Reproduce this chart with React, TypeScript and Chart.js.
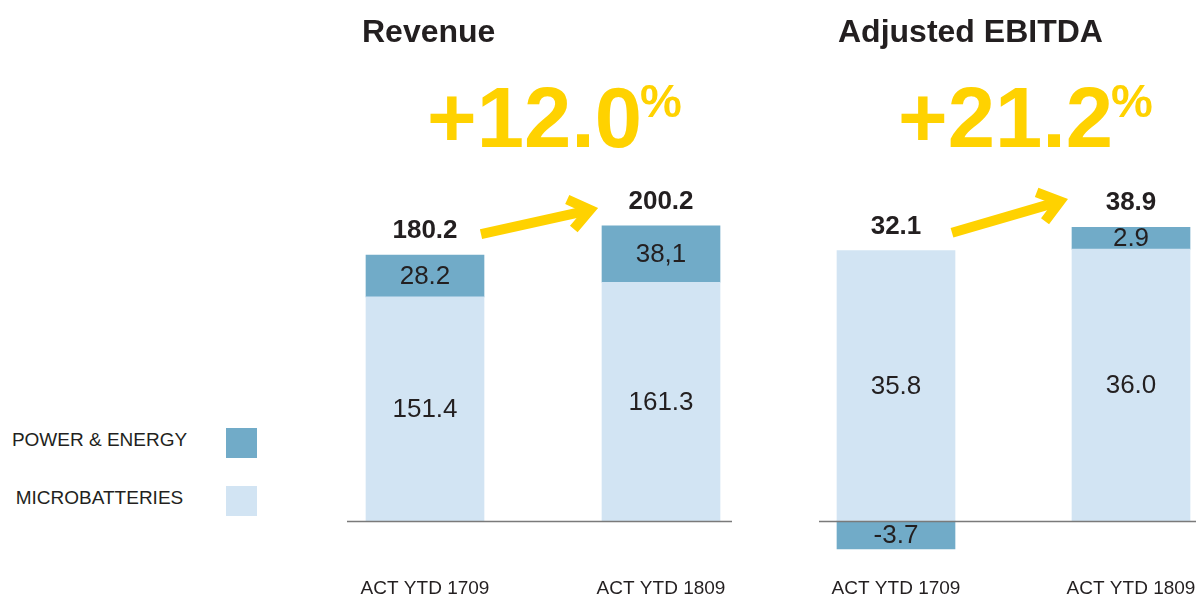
import React, { useEffect, useRef } from "react";
import { Chart, registerables } from "chart.js";

Chart.register(...registerables);

// ---------- data ----------
const categories = ["ACT YTD 1709", "ACT YTD 1809"];
const seriesNames = ["POWER & ENERGY", "MICROBATTERIES"];

const revenueMicro = [151.4, 161.3];
const revenuePower = [28.2, 38.1];
const revenueMicroText = ["151.4", "161.3"];
const revenuePowerText = ["28.2", "38,1"];
const revenueTotals = ["180.2", "200.2"];
const revenueGrowth = "+12.0";

const ebitdaMicro = [35.8, 36.0];
const ebitdaPower = [-3.7, 2.9];
const ebitdaMicroText = ["35.8", "36.0"];
const ebitdaPowerText = ["-3.7", "2.9"];
const ebitdaTotals = ["32.1", "38.9"];
const ebitdaGrowth = "+21.2";

// value-axis ranges (hidden axes)
const revenueRange = [-40.4, 200];
const ebitdaRange = [-7.92, 39.2];

// ---------- style ----------
const DARK = "#71ABC8";
const LIGHT = "#D2E4F3";
const YELLOW = "#FFD200";
const TEXT = "#231F20";
const FONT = '"Liberation Sans", Arial, Helvetica, sans-serif';
const BAR_W = 118;

const decorPlugin = {
  id: "decor",
  afterDatasetsDraw(chart: any, _args: any, opts: any) {
    const ctx = chart.ctx as CanvasRenderingContext2D;
    const micro = chart.getDatasetMeta(0).data;
    const power = chart.getDatasetMeta(1).data;
    const yScale = chart.scales.y;
    const half = BAR_W / 2;
    ctx.save();

    // baseline
    const y0 = Math.round(yScale.getPixelForValue(0)) + 0.5;
    ctx.strokeStyle = "#7a7a7a";
    ctx.lineWidth = 1.3;
    ctx.beginPath();
    ctx.moveTo(0, y0);
    ctx.lineTo(chart.width, y0);
    ctx.stroke();

    // in-bar labels
    ctx.fillStyle = TEXT;
    ctx.textAlign = "center";
    ctx.textBaseline = "middle";
    ctx.font = `26px ${FONT}`;
    micro.forEach((b: any, i: number) => {
      ctx.fillText(opts.microText[i], b.x, (b.y + b.base) / 2 + 1);
    });
    power.forEach((b: any, i: number) => {
      ctx.fillText(opts.powerText[i], b.x, (b.y + b.base) / 2 + 1);
    });

    // totals
    const tops = micro.map((b: any, i: number) => Math.min(b.y, b.base, power[i].y, power[i].base));
    ctx.font = `bold 26px ${FONT}`;
    micro.forEach((b: any, i: number) => {
      ctx.fillText(opts.totals[i], b.x, tops[i] - 24);
    });

    // title
    ctx.textAlign = "left";
    ctx.textBaseline = "alphabetic";
    ctx.font = `bold 32px ${FONT}`;
    ctx.fillText(opts.title, micro[0].x - half + opts.titleDx, 42);

    // growth
    ctx.fillStyle = YELLOW;
    ctx.font = `bold 85px ${FONT}`;
    const gx = micro[0].x - half + 61;
    ctx.fillText(opts.growth, gx, 147);
    const w = ctx.measureText(opts.growth).width;
    ctx.font = `bold 47px ${FONT}`;
    ctx.fillText("%", gx + w - 2, 117);

    // arrow
    const a = opts.arrow;
    const tx = micro[0].x + half + a.tailDx;
    const ty = tops[0] - 24 + a.tailDy;
    const hx = micro[1].x - half + a.tipDx;
    const hy = tops[1] - 24 + a.tipDy;
    const ang = Math.atan2(hy - ty, hx - tx);
    ctx.strokeStyle = YELLOW;
    ctx.lineWidth = 10;
    ctx.lineCap = "butt";
    ctx.lineJoin = "miter";
    ctx.beginPath();
    ctx.moveTo(tx, ty);
    ctx.lineTo(hx - Math.cos(ang) * 4, hy - Math.sin(ang) * 4);
    ctx.stroke();
    const arm = 25;
    const spread = (37 * Math.PI) / 180;
    ctx.beginPath();
    ctx.moveTo(hx - Math.cos(ang - spread) * arm, hy - Math.sin(ang - spread) * arm);
    ctx.lineTo(hx, hy);
    ctx.lineTo(hx - Math.cos(ang + spread) * arm, hy - Math.sin(ang + spread) * arm);
    ctx.stroke();

    ctx.restore();
  },
};

function makeConfig(
  micro: number[],
  power: number[],
  range: number[],
  padL: number,
  padR: number,
  decor: any
): any {
  return {
    type: "bar",
    data: {
      labels: categories,
      datasets: [
        { label: seriesNames[1], data: micro, backgroundColor: LIGHT, barThickness: BAR_W, borderWidth: 0, clip: false },
        { label: seriesNames[0], data: power, backgroundColor: DARK, barThickness: BAR_W, borderWidth: 0, clip: false },
      ],
    },
    options: {
      responsive: false,
      animation: false,
      events: [],
      layout: { padding: { top: 225, bottom: 0, left: padL, right: padR } },
      plugins: { legend: { display: false }, tooltip: { enabled: false }, decor },
      scales: {
        x: {
          stacked: true,
          offset: false,
          grid: { display: false, drawTicks: false },
          border: { display: false },
          ticks: {
            color: TEXT,
            font: { family: FONT, size: 19, lineHeight: 0.85 },
            padding: 0,
            maxRotation: 0,
            autoSkip: false,
          },
        },
        y: { stacked: true, display: false, min: range[0], max: range[1] },
      },
    },
    plugins: [decorPlugin],
  };
}

function ChartPanel({ left, width, config }: { left: number; width: number; config: () => any }) {
  const ref = useRef<HTMLCanvasElement>(null);
  useEffect(() => {
    const chart = new Chart(ref.current as HTMLCanvasElement, config());
    return () => chart.destroy();
  }, []);
  return (
    <canvas
      ref={ref}
      width={width}
      height={597}
      style={{ position: "absolute", left, top: 0, width, height: 597 }}
    />
  );
}

const legendItems = [
  { name: seriesNames[0], color: DARK, y: 440 },
  { name: seriesNames[1], color: LIGHT, y: 498 },
];

export default function App() {
  return (
    <div
      style={{
        position: "absolute",
        left: 0,
        top: 0,
        width: 1196,
        height: 597,
        overflow: "hidden",
        background: "#fff",
        fontFamily: FONT,
      }}
    >
      {legendItems.map((it) => (
        <React.Fragment key={it.name}>
          <div
            style={{
              position: "absolute",
              left: 0,
              width: 199,
              top: it.y - 11,
              height: 22,
              lineHeight: "22px",
              fontSize: 19,
              color: TEXT,
              textAlign: "center",
              whiteSpace: "nowrap",
            }}
          >
            {it.name}
          </div>
          <div
            style={{
              position: "absolute",
              left: 226,
              top: it.y - 12,
              width: 31,
              height: 30,
              background: it.color,
            }}
          />
        </React.Fragment>
      ))}
      <ChartPanel
        left={347}
        width={385}
        config={() =>
          makeConfig(revenueMicro, revenuePower, revenueRange, 78, 71, {
            title: "Revenue",
            titleDx: -4,
            growth: revenueGrowth,
            microText: revenueMicroText,
            powerText: revenuePowerText,
            totals: revenueTotals,
            arrow: { tailDx: -3, tailDy: 3, tipDx: -12, tipDy: 8 },
          })
        }
      />
      <ChartPanel
        left={819}
        width={377}
        config={() =>
          makeConfig(ebitdaMicro, ebitdaPower, ebitdaRange, 77, 65, {
            title: "Adjusted EBITDA",
            titleDx: 1,
            growth: ebitdaGrowth,
            microText: ebitdaMicroText,
            powerText: ebitdaPowerText,
            totals: ebitdaTotals,
            arrow: { tailDx: -3, tailDy: 6, tipDx: -12, tipDy: -2 },
          })
        }
      />
    </div>
  );
}
